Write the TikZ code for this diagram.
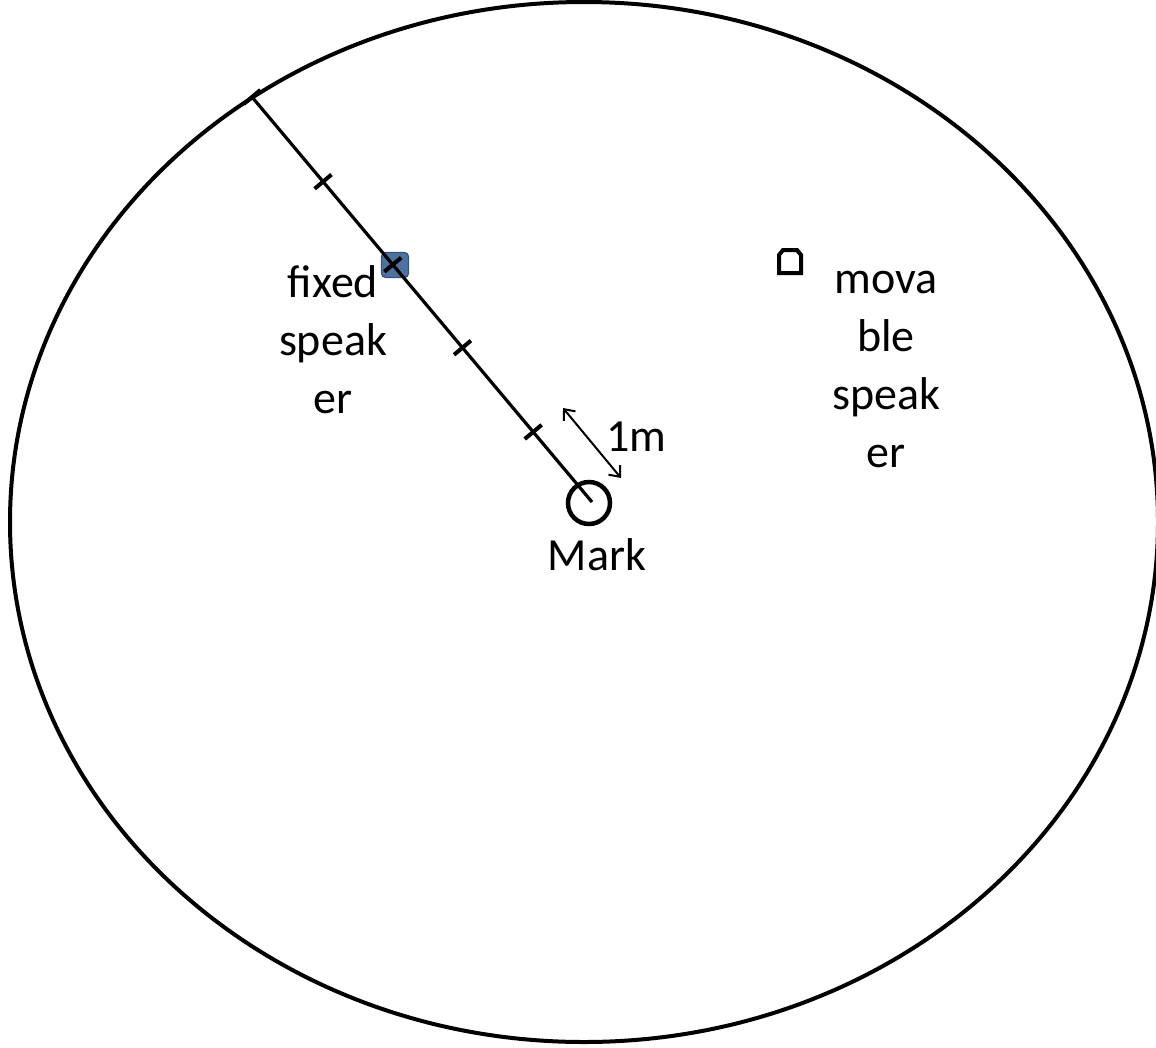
\documentclass[tikz,border=0pt]{standalone}
\usepackage{fontspec}
\setmainfont{Carlito}
\usetikzlibrary{calc,arrows.meta}
\definecolor{spkfill}{RGB}{79,113,160}
\definecolor{spkedge}{RGB}{56,84,125}
\tikzset{
  lbl/.style={font=\fontsize{46}{58}\selectfont, align=center, inner sep=0pt},
  tickmark/.style={line width=4pt},
  meas/.style={line width=3.2pt},
}
\begin{document}
\begin{tikzpicture}[x=1pt,y=-1pt]
\useasboundingbox (0,0) rectangle (1156,1047);
% room
\draw[line width=4pt] (584,522) ellipse [x radius=574, y radius=520];
% fixed speaker
\node[draw=spkedge, fill=spkfill, line width=1.2pt, rounded corners=4pt, minimum width=27pt, minimum height=25pt, inner sep=0pt] (fixed) at (395,265) {};
% measuring line
\coordinate (start) at (252,97);
\coordinate (end) at (592,502);
\draw[meas] (start) -- (end);
\foreach \t in {0,0.209,0.414,0.619,0.827,1}{
  \coordinate (P) at ($(start)!\t!(end)$);
  \draw[tickmark] ($(P)!11pt!90:(end)$) -- ($(P)!11pt!-90:(end)$);
}
% mark
\node[draw, circle, line width=4.5pt, minimum size=42pt, inner sep=0pt] (mark) at (589,503) {};
\node[lbl] (marklbl) at (597,555) {Mark};
% 1m arrow
\coordinate (a1) at (563,408);
\coordinate (a2) at (621,478);
\draw[line width=2pt, {Straight Barb[length=9pt,width=15pt]}-{Straight Barb[length=9pt,width=15pt]}] (a1) -- (a2);
\node[lbl, anchor=west] (onem) at (606,437) {1m};
% labels
\node[lbl] (fixedlbl) at (333,340) {fixed\\speak\\er};
\node[lbl] (movlbl) at (886,369) {mova\\ble\\speak\\er};
% movable speaker
\draw[line width=4pt] (779,273) -- (779,255) -- (783,250) -- (797,250) -- (801,255) -- (801,273) -- cycle;
\end{tikzpicture}
\end{document}
